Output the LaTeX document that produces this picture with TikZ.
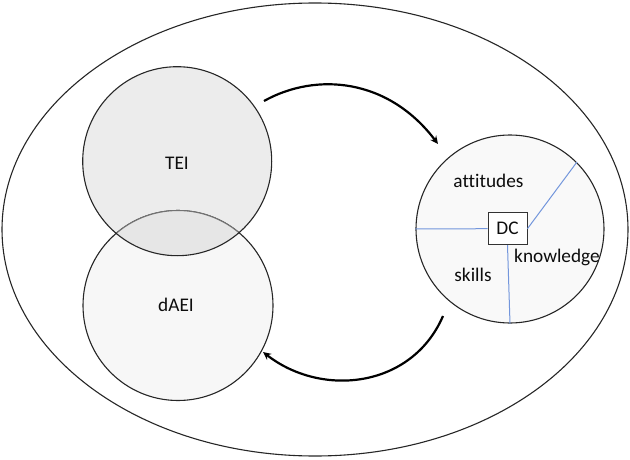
\documentclass[tikz,border=0pt]{standalone}
\usepackage{fontspec}
\setmainfont[RawFeature={-liga}]{Carlito}
\usetikzlibrary{arrows.meta,shapes.geometric}
\definecolor{blueline}{HTML}{7396DC}
\definecolor{teifill}{HTML}{ECECEC}
\definecolor{daeifill}{HTML}{F7F7F7}
\definecolor{dcfill}{HTML}{F9F9F9}
\definecolor{overlapfill}{HTML}{E6E6E6}
\tikzset{
  ring/.style={circle,draw=black!85,line width=1.1pt,inner sep=0pt,minimum size=#1},
  flow/.style={draw=black,line width=2.2pt,-{Stealth[length=8pt,width=7.5pt]}},
  spoke/.style={draw=blueline,line width=1pt},
  lbl/.style={font=\fontsize{19.3}{22}\selectfont,text=black!95,inner sep=0pt}
}
\begin{document}
\begin{tikzpicture}[x=1pt,y=-1pt]
\useasboundingbox (0,0) rectangle (630,460);
\node[ellipse,draw=black!85,line width=1.1pt,inner sep=0pt,minimum width=626pt,minimum height=453pt] (outer) at (315,229.5) {};
\node[circle,inner sep=0pt,minimum size=189pt,fill=teifill] (tei) at (177.2,161.2) {};
\node[ring=190pt,fill=daeifill] (daei) at (178,305.5) {};
\begin{scope}
  \clip (177.2,161.2) circle (94.5pt);
  \fill[overlapfill] (178,305.5) circle (95pt);
  \draw[black!55,line width=1.1pt] (178,305.5) circle (95pt);
\end{scope}
\draw[black!85,line width=1.1pt] (177.2,161.2) circle (94.5pt);
\node[ring=188pt,fill=dcfill] (dcc) at (510,229) {};
\node[draw=black!80,line width=0.9pt,fill=white,minimum width=39pt,minimum height=32pt,inner sep=0pt] (dc) at (507.5,228.7) {};
\node[lbl] (teil) at (177,163) {TEI};
\node[lbl] (daeil) at (176,305) {dAEI};
\node[lbl] at (dc) {DC};
\node[lbl] (att) at (488.5,181) {attitudes};
\node[lbl] (know) at (557,257) {knowledge};
\node[lbl] (sk) at (473,275) {skills};
\draw[spoke] (dc.west) -- (dcc.west);
\draw[spoke] (dc.east) -- (dcc.45);
\draw[spoke] (dc.south) -- (dcc.south);
\coordinate (a1) at (264,101);
\coordinate (a2) at (438,144);
\coordinate (b1) at (443,316);
\coordinate (b2) at (263,352);
\draw[flow] (a1) .. controls (316,72) and (388,78) .. (a2);
\draw[flow] (b1) .. controls (412,388) and (322,398) .. (b2);
\end{tikzpicture}
\end{document}
